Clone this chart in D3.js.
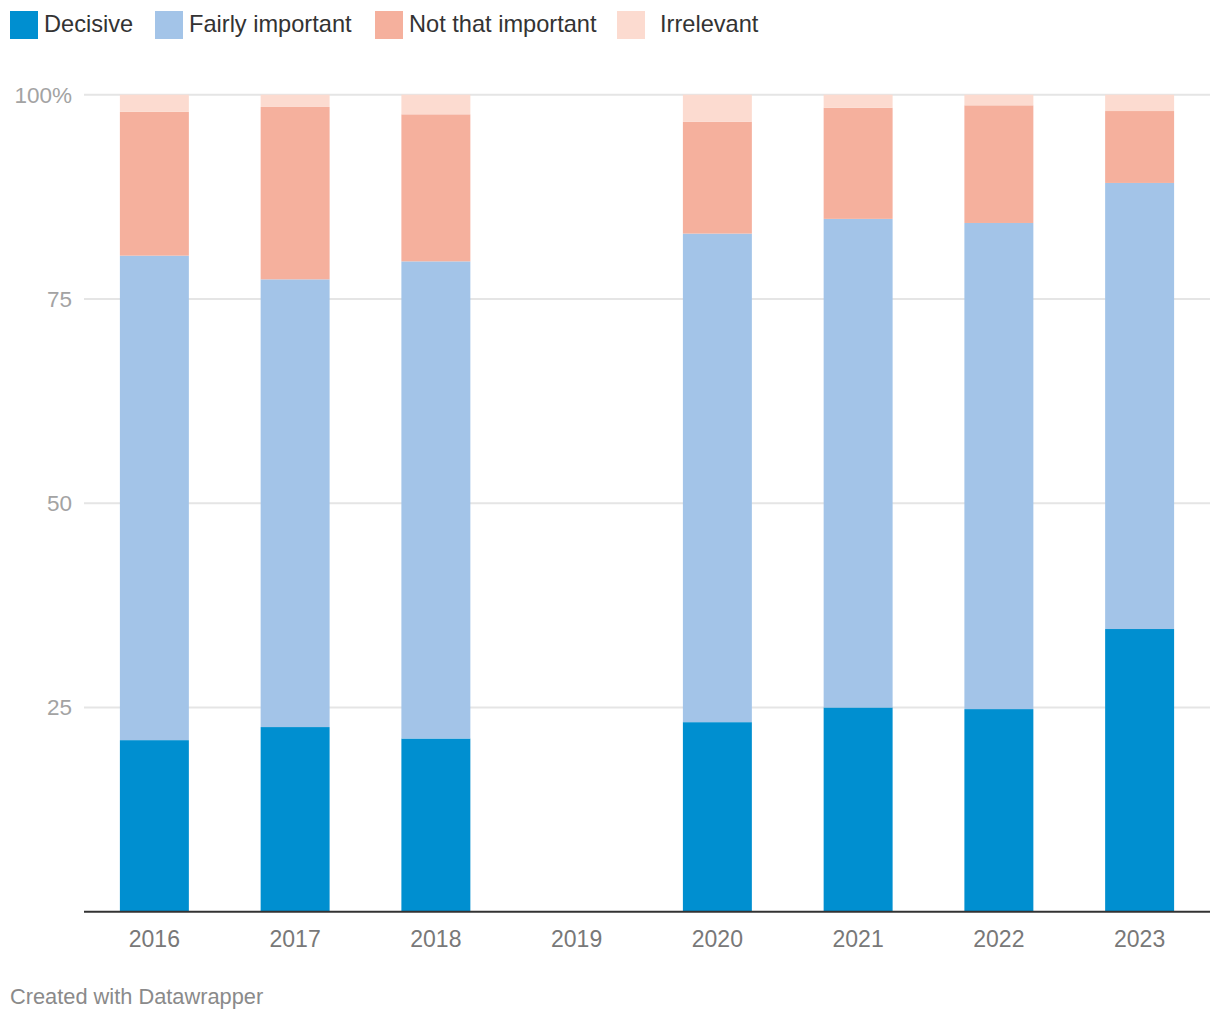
<!DOCTYPE html>
<html>
<head>
<meta charset="utf-8">
<script src="https://cdn.jsdelivr.net/npm/d3@7"></script>
<style>
  html, body { margin: 0; padding: 0; background: #fff; }
  svg { display: block; font-family: "Liberation Sans", Arial, Helvetica, sans-serif; }
</style>
</head>
<body>
<svg id="chart" width="1220" height="1020"></svg>
<script>
// ---- data ----
const years = ["2016", "2017", "2018", "2019", "2020", "2021", "2022", "2023"];
const seriesNames = ["Decisive", "Fairly important", "Not that important", "Irrelevant"];
const decisive          = [21.0, 22.6, 21.2, null, 23.2, 25.0, 24.8, 34.6];
const fairlyImportant   = [59.3, 54.8, 58.4, null, 59.8, 59.8, 59.5, 54.6];
const notThatImportant  = [17.6, 21.1, 18.0, null, 13.7, 13.6, 14.4,  8.8];
const irrelevant        = [ 2.1,  1.5,  2.4, null,  3.3,  1.6,  1.3,  2.0];
const yTicks = [25, 50, 75, 100];
const yTickLabels = ["25", "50", "75", "100%"];
const footerText = "Created with Datawrapper";

const colors = ["#008fd0", "#a3c4e8", "#f5b09d", "#fcdbd0"];

// ---- layout ----
const svg = d3.select("#chart");
const margin = { left: 84, right: 10 };
const W = 1220;
const plotBottom = 911.7, plotTop = 94.7;

const x = d3.scaleBand()
  .domain(years)
  .range([margin.left, W - margin.right])
  .paddingInner(0.51)
  .paddingOuter(0.255);

const y = d3.scaleLinear().domain([0, 100]).range([plotBottom, plotTop]);

// gridlines
const grid = svg.append("g");
grid.selectAll("line").data(yTicks).enter().append("line")
  .attr("x1", margin.left).attr("x2", W - margin.right)
  .attr("y1", d => y(d)).attr("y2", d => y(d))
  .attr("stroke", "#e5e5e5").attr("stroke-width", 2);

// y labels
svg.append("g").selectAll("text").data(yTicks).enter().append("text")
  .attr("x", 72).attr("y", d => y(d) + 8)
  .attr("text-anchor", "end")
  .attr("font-size", 22.5)
  .attr("fill", "#a3a3a3")
  .text((d, i) => yTickLabels[i]);

// stacked data
const rows = years.map((yr, i) => ({
  year: yr,
  "Decisive": decisive[i],
  "Fairly important": fairlyImportant[i],
  "Not that important": notThatImportant[i],
  "Irrelevant": irrelevant[i]
})).filter(r => r["Decisive"] !== null);

const stacked = d3.stack().keys(seriesNames)(rows);

const barsG = svg.append("g");
stacked.forEach((layer, li) => {
  barsG.append("g").attr("fill", colors[li])
    .selectAll("rect").data(layer).enter().append("rect")
    .attr("x", d => x(d.data.year))
    .attr("width", x.bandwidth())
    .attr("y", d => y(d[1]))
    .attr("height", d => y(d[0]) - y(d[1]));
});

// baseline axis
svg.append("line")
  .attr("x1", margin.left).attr("x2", W - margin.right)
  .attr("y1", plotBottom).attr("y2", plotBottom)
  .attr("stroke", "#333").attr("stroke-width", 2);

// x labels
svg.append("g").selectAll("text").data(years).enter().append("text")
  .attr("x", d => x(d) + x.bandwidth() / 2)
  .attr("y", 946.5)
  .attr("text-anchor", "middle")
  .attr("font-size", 23)
  .attr("fill", "#787878")
  .text(d => d);

// legend
const legendX = [10, 155, 375, 617];
const legendTextOffset = [34, 34, 34, 43];
const legend = svg.append("g");
seriesNames.forEach((name, i) => {
  legend.append("rect")
    .attr("x", legendX[i]).attr("y", 11)
    .attr("width", 28).attr("height", 28)
    .attr("fill", colors[i]);
  legend.append("text")
    .attr("x", legendX[i] + legendTextOffset[i]).attr("y", 32)
    .attr("font-size", 23.6)
    .attr("fill", "#333")
    .text(name);
});

// footer
svg.append("text")
  .attr("x", 10).attr("y", 1004)
  .attr("font-size", 21.8)
  .attr("fill", "#8a8a8a")
  .text(footerText);
</script>
</body>
</html>
